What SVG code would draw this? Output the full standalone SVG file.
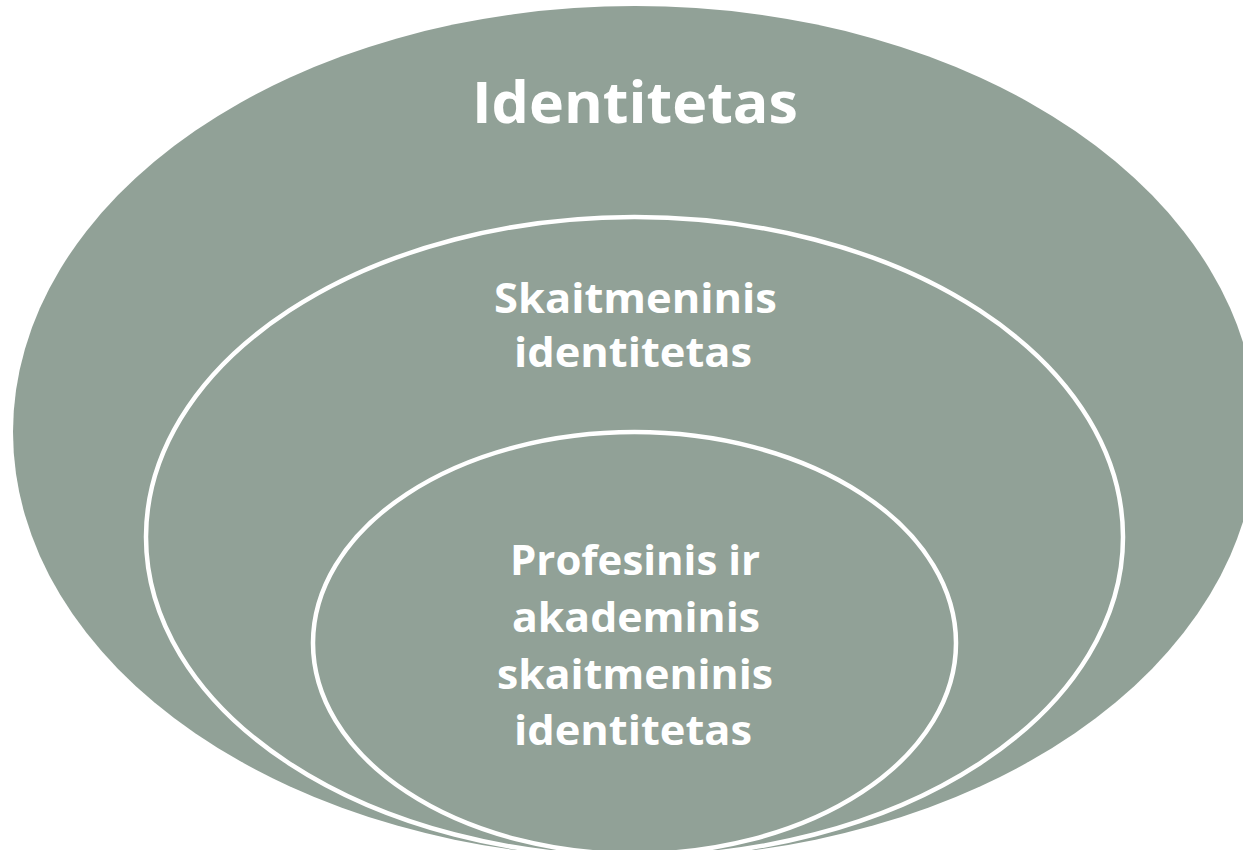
<svg xmlns="http://www.w3.org/2000/svg" width="1243" height="850" viewBox="0 0 1243 850">
  <style>
    .ring { fill: #91a197; }
    .inner { fill: #91a197; stroke: #ffffff; stroke-width: 4.5; }
    .lbl { fill: #ffffff; font-family: "Open Sans", "Liberation Sans", sans-serif; font-weight: bold; text-anchor: middle; }
    .t1 { font-size: 57px; }
    .t2 { font-size: 41px; }
  </style>
  <rect width="1243" height="850" fill="#ffffff"/>
  <g id="outer">
    <ellipse class="ring" cx="635" cy="432" rx="622" ry="426"/>
    <text class="lbl t1" x="635" y="123" textLength="326" lengthAdjust="spacingAndGlyphs">Identitetas</text>
  </g>
  <g id="middle">
    <ellipse class="inner" cx="634.5" cy="537" rx="488.5" ry="320"/>
    <text class="lbl t2" x="635.5" y="313" textLength="283" lengthAdjust="spacingAndGlyphs">Skaitmeninis</text>
    <text class="lbl t2" x="633" y="367" textLength="238" lengthAdjust="spacingAndGlyphs">identitetas</text>
  </g>
  <g id="inner">
    <ellipse class="inner" cx="634.5" cy="643" rx="321.5" ry="211"/>
    <text class="lbl t2" x="635" y="575" textLength="250" lengthAdjust="spacingAndGlyphs">Profesinis ir</text>
    <text class="lbl t2" x="636" y="632" textLength="248" lengthAdjust="spacingAndGlyphs">akademinis</text>
    <text class="lbl t2" x="635" y="689" textLength="276" lengthAdjust="spacingAndGlyphs">skaitmeninis</text>
    <text class="lbl t2" x="633" y="745" textLength="238" lengthAdjust="spacingAndGlyphs">identitetas</text>
  </g>
  <g id="connectors"/>
</svg>
